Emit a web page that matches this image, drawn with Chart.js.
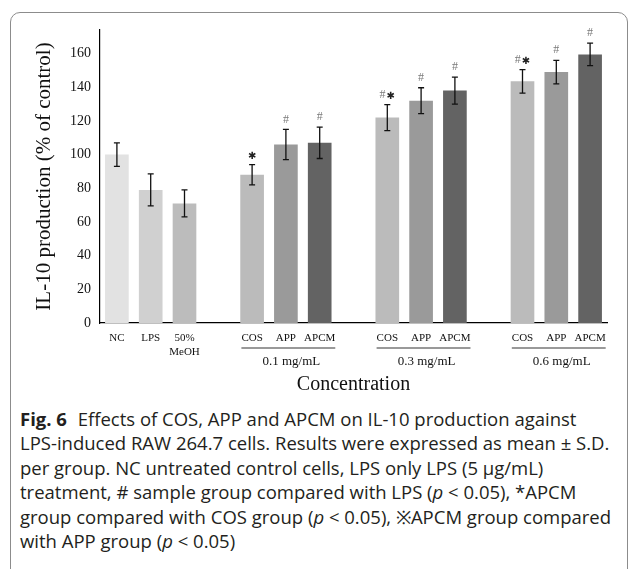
<!DOCTYPE html>
<html>
<head>
<meta charset="utf-8">
<title>IL-10 production</title>
<script src="https://cdn.jsdelivr.net/npm/chart.js@4.4.1/dist/chart.umd.min.js"></script>
<style>
  body { margin: 0; background: #fff; }
  #frame { position: absolute; left: 10px; top: 12px; width: 616px; height: 600px;
           border: 1px solid #8c8c8c; border-radius: 10px; }
  #wrap { position: absolute; left: 0; top: 0; width: 629px; height: 400px; }
  #caption { position: absolute; left: 20px; top: 407px; font-family: "Open Sans", sans-serif;
             font-size: 18.5px; line-height: 24.4px; color: #231f20; white-space: nowrap; }
  #caption b { font-weight: 700; margin-right: 6px; }
</style>
</head>
<body>
<div id="frame"></div>
<div id="wrap"><canvas id="il10" width="629" height="400"></canvas></div>
<div id="caption">
  <b>Fig. 6</b> Effects of COS, APP and APCM on IL-10 production against<br>
  LPS-induced RAW 264.7 cells. Results were expressed as mean ± S.D.<br>
  per group. NC untreated control cells, LPS only LPS (5 μg/mL)<br>
  treatment, # sample group compared with LPS (<i>p</i> &lt; 0.05), *APCM<br>
  group compared with COS group (<i>p</i> &lt; 0.05), ※APCM group compared<br>
  with APP group (<i>p</i> &lt; 0.05)
</div>
<script>
  // values (% of control), empty slots separate the groups
  var categories = ['NC', 'LPS', ['50%', 'MeOH'], '', 'COS', 'APP', 'APCM', '', 'COS', 'APP', 'APCM', '', 'COS', 'APP', 'APCM'];
  var means = [100, 79, 71, null, 88, 106, 107, null, 122, 132, 138, null, 143.5, 149, 159.5];
  var sds = [7, 9.5, 8, null, 6, 9, 9.3, null, 7.7, 7.7, 8, null, 7, 7, 6.7];
  var hashMarks = ['', '', '', '', '', '#', '#', '', '#', '#', '#', '', '#', '#', '#'];
  var starMarks = ['', '', '', '', '✱', '', '', '', '✱', '', '', '', '✱', '', ''];
  var groupLabels = ['0.1 mg/mL', '0.3 mg/mL', '0.6 mg/mL'];
  var groupFirst = [4, 8, 12];
  var groupLast = [6, 10, 14];
  var yMax = 174;
  var yStep = 20;

  var barColors = ['#e2e2e2', '#d0d0d0', '#bcbcbc', '#fff', '#bbbbbb', '#9a9a9a', '#636363', '#fff',
                   '#bbbbbb', '#9a9a9a', '#636363', '#fff', '#bbbbbb', '#9a9a9a', '#636363'];
  var serif = '"Liberation Serif", "Times New Roman", serif';

  var errorBars = {
    id: 'errorBars',
    afterDatasetsDraw: function(chart) {
      var ctx = chart.ctx, x = chart.scales.x, y = chart.scales.y;
      ctx.save();
      ctx.strokeStyle = '#111';
      ctx.lineWidth = 1.3;
      means.forEach(function(m, i) {
        if (m == null) return;
        var px = x.getPixelForValue(i);
        var top = y.getPixelForValue(m + sds[i]);
        var bot = y.getPixelForValue(m - sds[i]);
        ctx.beginPath();
        ctx.moveTo(px, top); ctx.lineTo(px, bot);
        ctx.moveTo(px - 3, top); ctx.lineTo(px + 3, top);
        ctx.moveTo(px - 3, bot); ctx.lineTo(px + 3, bot);
        ctx.stroke();

        // significance marks
        var hash = hashMarks[i], star = starMarks[i];
        if (!hash && !star) return;
        ctx.textBaseline = 'middle';
        ctx.textAlign = 'left';
        ctx.font = '12px ' + serif;
        var hw = hash ? ctx.measureText(hash).width : 0;
        ctx.font = '10px "DejaVu Sans"';
        var sw = star ? ctx.measureText(star).width + (hash ? 1 : 0) : 0;
        var start = px - (hw + sw) / 2;
        if (hash) {
          ctx.font = '12px ' + serif;
          ctx.fillStyle = '#7a7a7a';
          ctx.fillText(hash, start, top - 10);
        }
        if (star) {
          ctx.font = '10px "DejaVu Sans"';
          ctx.fillStyle = '#222';
          ctx.fillText(star, start + hw + (hash ? 1 : 0), top - 8);
        }
      });
      ctx.restore();
    }
  };

  var groupLines = {
    id: 'groupLines',
    afterDraw: function(chart) {
      var ctx = chart.ctx, x = chart.scales.x;
      var base = chart.chartArea.bottom;
      ctx.save();
      groupLabels.forEach(function(lbl, g) {
        ctx.font = '11px ' + serif;
        var a = x.getPixelForValue(groupFirst[g]) - ctx.measureText(categories[groupFirst[g]]).width / 2;
        var b = x.getPixelForValue(groupLast[g]) + ctx.measureText(categories[groupLast[g]]).width / 2;
        ctx.strokeStyle = '#777';
        ctx.lineWidth = 1.5;
        ctx.beginPath();
        ctx.moveTo(a, base + 25); ctx.lineTo(b, base + 25);
        ctx.stroke();
        ctx.font = '13px ' + serif;
        ctx.fillStyle = '#111';
        ctx.textAlign = 'center';
        ctx.textBaseline = 'middle';
        ctx.fillText(lbl, (a + b) / 2 + 3, base + 39);
      });
      ctx.restore();
    }
  };

  new Chart('il10', {
    type: 'bar',
    data: {
      labels: categories,
      datasets: [{
        data: means,
        backgroundColor: barColors,
        borderWidth: 0,
        barPercentage: 0.7,
        categoryPercentage: 1.0
      }]
    },
    options: {
      responsive: false,
      animation: false,
      layout: { padding: { left: 20, right: 22, top: 30, bottom: 0 } },
      plugins: { legend: { display: false }, tooltip: { enabled: false } },
      scales: {
        x: {
          grid: { display: false, drawTicks: false },
          border: { display: true, color: '#000', width: 1.2 },
          ticks: { color: '#111', font: { family: serif, size: 11 }, padding: 9, maxRotation: 0, autoSkip: false },
          title: { display: true, text: 'Concentration', color: '#111',
                   font: { family: serif, size: 20 }, padding: { top: 0, bottom: 3 } },
          afterFit: function(s) { s.height = 77; }
        },
        y: {
          min: 0,
          max: yMax,
          grid: { display: false, drawTicks: false },
          border: { display: true, color: '#000', width: 1.2 },
          ticks: { stepSize: yStep, includeBounds: false, color: '#111',
                   font: { family: serif, size: 14 }, padding: 9 },
          title: { display: true, text: 'IL-10 production (% of control)', color: '#111',
                   font: { family: serif, size: 21 }, padding: { top: 12, bottom: 0 } },
          afterFit: function(s) { s.width = 80; }
        }
      }
    },
    plugins: [errorBars, groupLines]
  });
</script>
</body>
</html>
